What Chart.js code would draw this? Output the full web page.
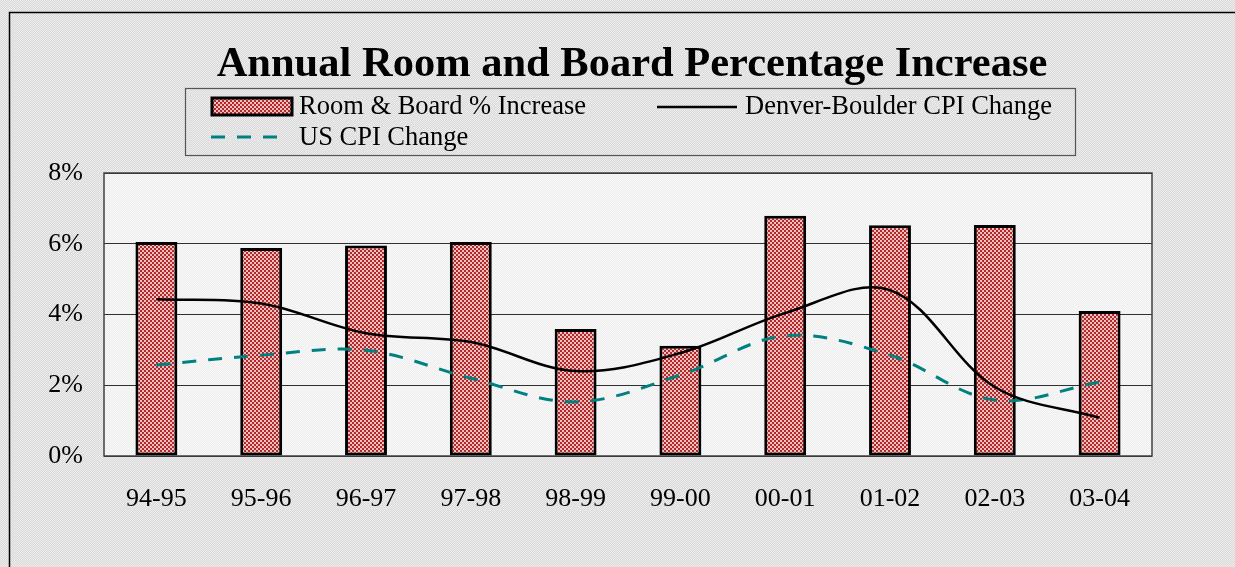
<!DOCTYPE html>
<html><head><meta charset="utf-8">
<script src="https://cdn.jsdelivr.net/npm/chart.js@4.4.1/dist/chart.umd.min.js"></script>
<style>html,body{margin:0;padding:0;background:#e0e0e0;overflow:hidden}#wrap{width:1235px;height:567px;position:relative}</style>
</head><body><div id="wrap"><canvas id="c" width="1235" height="567"></canvas></div>
<script>
const categories = ['94-95','95-96','96-97','97-98','98-99','99-00','00-01','01-02','02-03','03-04'];
const roomBoard = [6.05, 5.88, 5.95, 6.05, 3.59, 3.12, 6.79, 6.52, 6.53, 4.10];
const denverCPI = [4.43, 4.31, 3.47, 3.22, 2.40, 2.91, 4.04, 4.69, 1.95, 1.08];
const usCPI = [2.57, 2.85, 2.99, 2.20, 1.53, 2.29, 3.40, 2.85, 1.58, 2.09];
const yTicks = [0, 2, 4, 6, 8];
const titleText = 'Annual Room and Board Percentage Increase';

function makePattern(c1, c2, cell) {
  const p = document.createElement('canvas'); p.width = 2 * cell; p.height = 2 * cell;
  const g = p.getContext('2d');
  g.fillStyle = c1; g.fillRect(0, 0, 2 * cell, 2 * cell);
  g.fillStyle = c2; g.fillRect(0, 0, cell, cell); g.fillRect(cell, cell, cell, cell);
  return document.getElementById('c').getContext('2d').createPattern(p, 'repeat');
}
const barFill = makePattern('#b02828', '#f0c0c0', 2);
const bgFill = makePattern('#d8d8d8', '#eeeeee', 1);
const plotFill = makePattern('#efefef', '#f7f7f7', 1);
const FONT = '"Liberation Serif", "Times New Roman", serif';

const decor = {
  id: 'decor',
  beforeDraw(chart) {
    const ctx = chart.ctx, a = chart.chartArea;
    ctx.save();
    ctx.fillStyle = bgFill; ctx.fillRect(0, 0, chart.width, chart.height);
    ctx.strokeStyle = '#000'; ctx.lineWidth = 1.5;
    ctx.beginPath(); ctx.moveTo(9.5, 600); ctx.lineTo(9.5, 12.5); ctx.lineTo(1300, 12.5); ctx.stroke();
    ctx.fillStyle = plotFill; ctx.fillRect(a.left, a.top, a.right - a.left, a.bottom - a.top);
    ctx.restore();
  },
  afterDraw(chart) {
    const ctx = chart.ctx, a = chart.chartArea;
    ctx.save();
    ctx.strokeStyle = '#404040'; ctx.lineWidth = 1.5;
    ctx.strokeRect(a.left, a.top, a.right - a.left, a.bottom - a.top);
    ctx.fillStyle = '#000'; ctx.font = 'bold 42.5px ' + FONT;
    ctx.textAlign = 'center'; ctx.textBaseline = 'alphabetic';
    ctx.fillText(titleText, 632, 76);
    ctx.strokeStyle = '#555'; ctx.lineWidth = 1.2;
    ctx.strokeRect(185.5, 88.5, 890, 67);
    const ds = chart.data.datasets;
    ctx.font = '26.5px ' + FONT; ctx.textAlign = 'left'; ctx.textBaseline = 'middle'; ctx.fillStyle = '#000';
    ctx.fillStyle = barFill; ctx.fillRect(212, 98, 80, 17);
    ctx.strokeStyle = '#000'; ctx.lineWidth = 3; ctx.strokeRect(212, 98, 80, 17);
    ctx.fillStyle = '#000'; ctx.fillText(ds[0].label, 299, 107);
    ctx.strokeStyle = ds[1].borderColor; ctx.lineWidth = 2.5; ctx.setLineDash([]);
    ctx.beginPath(); ctx.moveTo(657, 107); ctx.lineTo(737, 107); ctx.stroke();
    ctx.fillText(ds[1].label, 745, 107);
    ctx.strokeStyle = ds[2].borderColor; ctx.lineWidth = 3; ctx.setLineDash([14, 12]);
    ctx.beginPath(); ctx.moveTo(211, 137); ctx.lineTo(287, 137); ctx.stroke();
    ctx.setLineDash([]);
    ctx.fillText(ds[2].label, 299, 138);
    ctx.restore();
  }
};

new Chart(document.getElementById('c'), {
  data: {
    labels: categories,
    datasets: [
      { type: 'bar', label: 'Room & Board % Increase', data: roomBoard, backgroundColor: barFill,
        borderColor: '#000', borderWidth: 3, borderSkipped: false, barPercentage: 0.4, categoryPercentage: 1.0, order: 3 },
      { type: 'line', label: 'Denver-Boulder CPI Change', data: denverCPI, borderColor: '#000', borderWidth: 2.5,
        pointRadius: 0, tension: 0.35, fill: false, order: 1 },
      { type: 'line', label: 'US CPI Change', data: usCPI, borderColor: '#008080', borderWidth: 3, borderDash: [14, 12],
        pointRadius: 0, tension: 0.35, fill: false, order: 2 }
    ]
  },
  options: {
    responsive: false, animation: false, devicePixelRatio: 1,
    layout: { padding: { left: 44, right: 83, top: 173, bottom: 0 } },
    plugins: { legend: { display: false }, title: { display: false }, tooltip: { enabled: false } },
    scales: {
      x: {
        grid: { display: false, drawTicks: false }, border: { display: false },
        ticks: { color: '#000', font: { family: FONT, size: 26 }, padding: 28, maxRotation: 0 },
        afterFit(s) { s.height = 111; }
      },
      y: {
        min: 0, max: 8,
        afterBuildTicks(s) { s.ticks = yTicks.map(v => ({ value: v })); },
        grid: { color: '#303030', lineWidth: 1, drawTicks: false }, border: { display: false },
        ticks: { color: '#000', font: { family: FONT, size: 26 }, padding: 21, callback: v => v + '%' },
        afterFit(s) { s.width = 60; }
      }
    }
  },
  plugins: [decor]
});
</script></body></html>
